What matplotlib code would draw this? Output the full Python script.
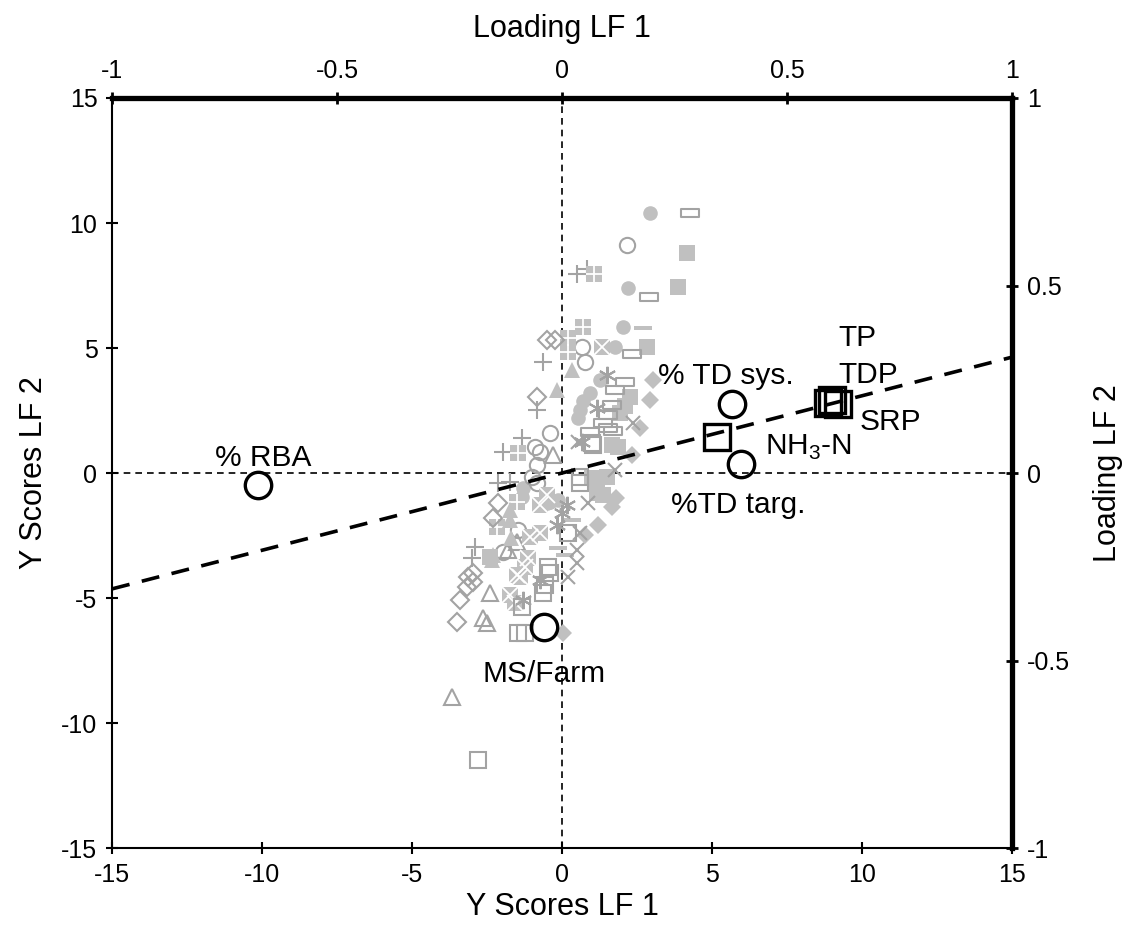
import numpy as np
import matplotlib
matplotlib.use("Agg")
import matplotlib.pyplot as plt
from matplotlib.path import Path

plt.rcParams['font.family'] = ['Liberation Sans', 'DejaVu Sans']
plt.rcParams['mathtext.fontset'] = 'custom'
plt.rcParams['mathtext.rm'] = 'Liberation Sans'
plt.rcParams['axes.unicode_minus'] = False

# ---- Y scores (grey symbols), one list per symbol type ----
fc_x = [2.93, 2.2, 2.03, 1.77, 1.27, 0.93, 0.6, 0.53, 0.7, -1.33, -0.4, -0.13, -0.5, -1.3]
fc_y = [10.4, 7.4, 5.84, 5.04, 3.72, 3.2, 2.52, 2.2, 2.9, -0.96, -1.16, -1.08, -1.2, -0.6]
oc_x = [2.17, 0.67, 0.77, -0.4, -0.73, -0.9, -0.83, -0.83, -1.47, -1.97, -1.0]
oc_y = [9.12, 5.04, 4.44, 1.6, 0.84, 1.04, 0.32, -0.4, -2.28, -3.16, -0.16]
fs_x = [4.17, 3.87, 2.83, 2.27, 1.93, 1.67, 1.87, 1.5, 1.0, 1.17, 1.37, -2.4, 2.1]
fs_y = [8.8, 7.44, 5.04, 3.04, 2.4, 1.12, 1.04, -0.16, -0.2, -0.8, -0.88, -3.36, 2.7]
rect_x = [4.27, 2.9, 2.33, 2.1, 1.77, 1.67, 1.53, 1.37, 1.53, 0.93, 1.7]
rect_y = [10.4, 7.04, 4.76, 3.64, 3.32, 2.72, 2.32, 2.0, 1.8, 1.64, 1.68]
dash_x = [2.7, 0.33, -0.13, 0.1]
dash_y = [5.8, -1.88, -3.0, -3.28]
pl_x = [0.5, 0.83, -0.63, -0.83, -1.33, -1.97, -2.13, -1.73, -2.9, -3.0]
pl_y = [7.96, 8.16, 4.44, 2.52, 1.4, 0.84, -0.4, -0.36, -2.96, -3.4]
fsp_x = [1.07, 0.7, 0.2, 0.2, -1.47, -1.5, -2.17]
fsp_y = [7.96, 5.84, 5.4, 4.84, 0.8, -1.16, -2.16]
od_x = [-0.5, -0.23, -0.83, -2.13, -2.3, -2.97, -3.13, -2.97, -3.17, -3.4, -3.5]
od_y = [5.32, 5.32, 3.04, -1.2, -1.8, -4.0, -4.16, -4.36, -4.56, -5.08, -5.96]
fd_x = [3.03, 2.93, 2.6, 2.33, 1.67, 1.2, 0.77, 0.03, 1.8]
fd_y = [3.72, 2.92, 1.8, 0.72, -1.36, -2.08, -2.48, -6.4, -1.0]
ot_x = [-0.3, -1.5, -1.8, -2.4, -2.63, -2.5, -3.67]
ot_y = [0.72, -2.76, -3.08, -4.8, -5.8, -6.0, -8.96]
ft_x = [-0.17, 0.33, -1.73, -2.3, -1.73, -2.33, -1.7]
ft_y = [3.32, 4.12, -1.88, -3.28, -1.48, -3.48, -2.6]
xm_x = [0.87, 0.6, 0.5, 0.5, 0.2, 1.77, 2.37, 0.53]
xm_y = [-1.2, -2.4, -3.08, -3.6, -4.16, 0.12, 2.0, 1.24]
fsx_x = [1.33, -0.5, -0.73, -1.07, -0.73, -1.13, -1.23, -1.5, -1.73, -1.4, -1.57]
fsx_y = [5.04, -0.88, -1.28, -2.56, -2.4, -3.4, -3.76, -4.08, -4.88, -4.16, -5.2]
ast_x = [1.5, 1.17, 0.67, 0.17, -0.17, -1.3, -0.73, 0.0]
ast_y = [3.92, 2.6, 1.24, -1.28, -2.08, -5.08, -4.28, -1.6]
osq_x = [-0.63, -1.33, -1.47, -1.23, -0.4, -2.8, 0.6, 0.6, 0.2, -0.47, -0.57, 1.0, 1.03]
osq_y = [-4.8, -5.36, -6.4, -6.4, -4.0, -11.48, -0.16, -0.4, -2.4, -3.76, -4.48, 1.2, 1.12]

# ---- loadings (black symbols) ----
circ_names = ['% RBA', 'MS/Farm', '% TD sys.', '%TD targ.']
circ_lx = [-0.675, -0.04, 0.378, 0.398]
circ_ly = [-0.032, -0.41, 0.184, 0.024]
sq_names = [r'NH$_\mathregular{3}$-N', 'TP', 'TDP', 'SRP']
sq_lx = [0.344, 0.591, 0.6, 0.613]
sq_ly = [0.096, 0.187, 0.195, 0.184]
# label positions (loading units), hand placed like the original
circ_tx = [-0.665, -0.04, 0.365, 0.391]
circ_ty = [0.04, -0.535, 0.26, -0.085]
sq_tx = [0.45, 0.613, 0.613, 0.662]
sq_ty = [0.067, 0.36, 0.261, 0.136]

reg_slope = 0.309

score_ticks = [-15, -10, -5, 0, 5, 10, 15]
load_ticks = [-1, -0.5, 0, 0.5, 1]
load_labels = ['-1', '-0.5', '0', '0.5', '1']

fill_grey = '#c0c0c0'
line_grey = '#a3a3a3'

rect_m = Path([(-1, -0.42), (1, -0.42), (1, 0.42), (-1, 0.42), (-1, -0.42)],
              [1, 2, 2, 2, 79])
dash_m = Path([(-1, -0.22), (1, -0.22), (1, 0.22), (-1, 0.22), (-1, -0.22)],
              [1, 2, 2, 2, 79])

fig = plt.figure(figsize=(11.25, 9.36), dpi=100)
ax = fig.add_axes([0.0996, 0.094, 0.80, 0.8013])

ax.axhline(0, color='black', lw=1.2, ls=(0, (4, 3)), zorder=1)
ax.axvline(0, color='black', lw=1.2, ls=(0, (4, 3)), zorder=1)


def filled(x, y, m, ms):
    ax.plot(x, y, ls='none', marker=m, ms=ms, mfc=fill_grey, mec=fill_grey, mew=0, zorder=3)


def hollow(x, y, m, ms, mew=1.5):
    ax.plot(x, y, ls='none', marker=m, ms=ms, mfc='none', mec=line_grey, mew=mew, zorder=3)


filled(fc_x, fc_y, 'o', 10.5)
hollow(oc_x, oc_y, 'o', 11)
filled(fs_x, fs_y, 's', 11)
hollow(rect_x, rect_y, rect_m, 13.5)
filled(dash_x, dash_y, dash_m, 13.5)
hollow(pl_x, pl_y, '+', 12.5)
filled(fsp_x, fsp_y, 's', 11)
ax.plot(fsp_x, fsp_y, ls='none', marker='+', ms=11, mec='white', mew=1.3, zorder=3)
hollow(od_x, od_y, 'D', 9.5)
filled(fd_x, fd_y, 'D', 9.5)
hollow(ot_x, ot_y, '^', 12)
filled(ft_x, ft_y, '^', 12)
hollow(xm_x, xm_y, 'x', 10.5)
filled(fsx_x, fsx_y, 's', 11)
ax.plot(fsx_x, fsx_y, ls='none', marker='x', ms=11, mec='white', mew=1.3, zorder=3)
hollow(ast_x, ast_y, (6, 2, 0), 12.5)
hollow(osq_x, osq_y, 's', 11)

xr = np.array([-15, 15])
ax.plot(xr, reg_slope * xr, color='black', lw=2.6, ls=(0, (5, 3.5)), zorder=4)

ax.set_xlim(-15, 15)
ax.set_ylim(-15, 15)
ax.set_xticks(score_ticks)
ax.set_yticks(score_ticks)
ax.tick_params(direction='inout', length=9, width=1.5, labelsize=18, pad=6)
ax.spines['top'].set_visible(False)
ax.spines['right'].set_visible(False)
for s in ['left', 'bottom']:
    ax.spines[s].set_linewidth(1.5)
ax.set_xlabel('Y Scores LF 1', fontsize=22, labelpad=4)
ax.set_ylabel('Y Scores LF 2', fontsize=22, labelpad=9)

# overlay axes for loadings
axl = fig.add_axes(ax.get_position(), facecolor='none')
axl.set_xlim(-1, 1)
axl.set_ylim(-1, 1)
axl.xaxis.tick_top()
axl.yaxis.tick_right()
axl.xaxis.set_label_position('top')
axl.yaxis.set_label_position('right')
axl.set_xticks(load_ticks)
axl.set_xticklabels(load_labels)
axl.set_yticks(load_ticks)
axl.set_yticklabels(load_labels)
axl.tick_params(direction='inout', length=9, width=2, labelsize=18, pad=6)
axl.spines['bottom'].set_visible(False)
axl.spines['left'].set_visible(False)
for s in ['top', 'right']:
    axl.spines[s].set_linewidth(3.8)
axl.set_xlabel('Loading LF 1', fontsize=22, labelpad=16)
axl.set_ylabel('Loading LF 2', fontsize=22, labelpad=17)

axl.plot(circ_lx, circ_ly, ls='none', marker='o', ms=19, mfc='none', mec='black', mew=2.4, zorder=5)
axl.plot(sq_lx, sq_ly, ls='none', marker='s', ms=19, mfc='none', mec='black', mew=2.4, zorder=5)

for name, tx, ty in zip(circ_names, circ_tx, circ_ty):
    axl.text(tx, ty, name, fontsize=21.5, ha='center', va='center')
for name, tx, ty in zip(sq_names, sq_tx, sq_ty):
    axl.text(tx, ty, name, fontsize=21.5, ha='left', va='center')

fig.savefig('out.png', dpi=100)
